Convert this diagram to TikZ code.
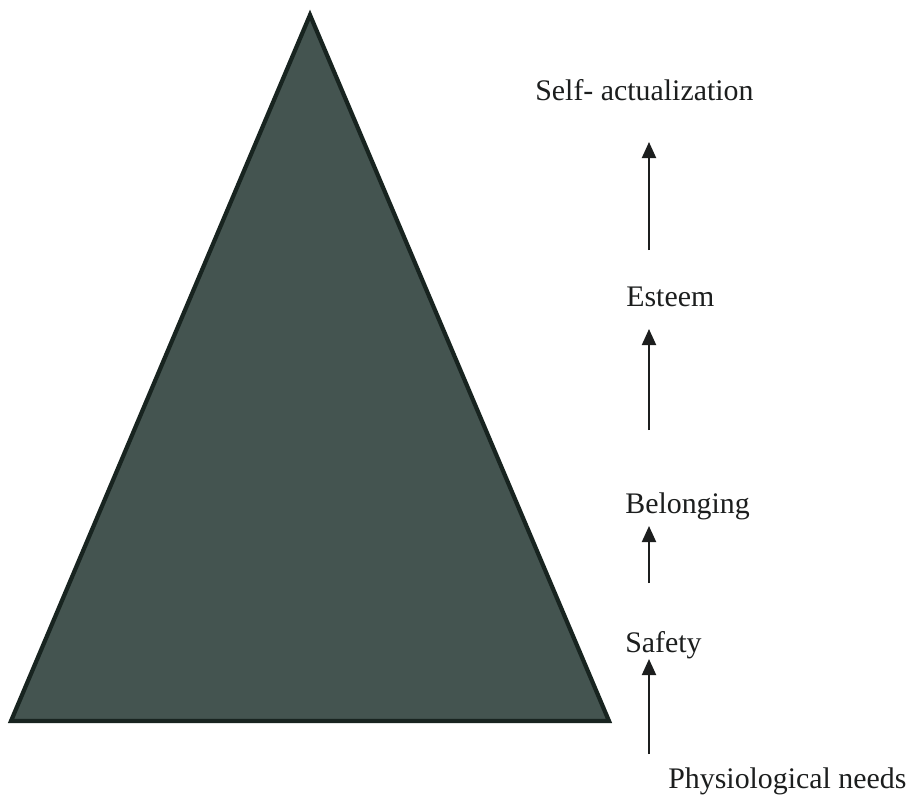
\documentclass[tikz,border=0pt]{standalone}
\usepackage{fontspec}
\setmainfont{Liberation Serif}
\usetikzlibrary{arrows.meta}
\definecolor{pyramidfill}{RGB}{68,84,80}
\definecolor{pyramidedge}{RGB}{24,36,32}
\definecolor{inkdark}{RGB}{28,30,30}

\begin{document}
\begin{tikzpicture}[x=0.02cm, y=-0.02cm,
  need/.style={font=\fontsize{17}{20}\selectfont, text=inkdark, inner sep=0pt, anchor=base west},
  climb/.style={-{Triangle[length=0.32cm, width=0.28cm]}, line width=1.1pt, draw=inkdark}]
  \useasboundingbox (0,0) rectangle (913,798);
  % --- pyramid ---
  \filldraw[fill=pyramidfill, draw=pyramidedge, line width=2.4pt, line join=miter]
    (310,15) -- (609,721) -- (11,721) -- cycle;
  % --- levels, bottom to top ---
  \node[need] (phys)    at (668,788) {Physiological needs};
  \node[need] (safety)  at (625,652) {Safety};
  \node[need] (belong)  at (625,513) {Belonging};
  \node[need] (esteem)  at (626,306) {Esteem};
  \node[need] (selfact) at (535,100) {Self- actualization};
  % --- arrows between the levels ---
  \def\ax{649}
  \coordinate (t4) at (\ax,754); \coordinate (h4) at (\ax,659);
  \coordinate (t3) at (\ax,583); \coordinate (h3) at (\ax,526);
  \coordinate (t2) at (\ax,430); \coordinate (h2) at (\ax,329);
  \coordinate (t1) at (\ax,250); \coordinate (h1) at (\ax,142);
  \foreach \i in {1,...,4} {
    \draw[climb] (t\i) -- (h\i);
  }
\end{tikzpicture}
\end{document}
